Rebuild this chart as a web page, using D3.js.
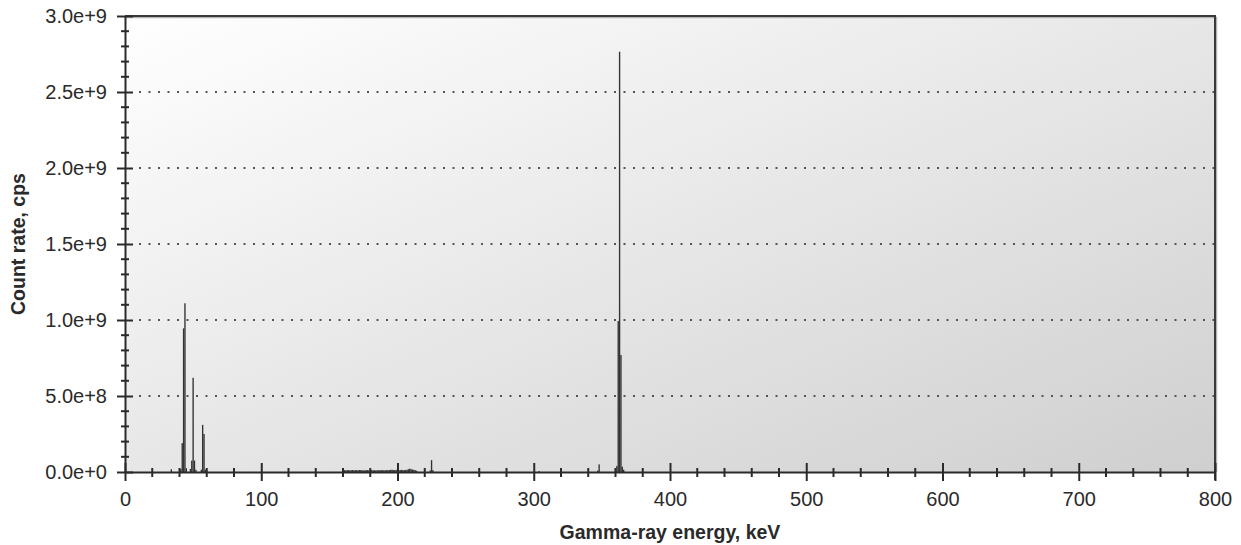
<!DOCTYPE html>
<html>
<head>
<meta charset="utf-8">
<script src="https://cdn.jsdelivr.net/npm/d3@7"></script>
<style>
  body { margin: 0; background: #ffffff; }
  svg { display: block; }
  text { font-family: "Liberation Sans", Arial, sans-serif; fill: #2a2a2a; }
</style>
</head>
<body>
<svg id="chart" width="1241" height="545"></svg>
<script>
// Gamma spectrum, 1 keV bins: energy (keV) and count rate (cps). Empty bins are omitted.
const lineEnergies = [34, 41, 42, 43, 44, 45, 48, 49, 50, 51, 52, 56, 57, 58, 59,
                      224, 225, 226, 304, 347, 348, 360, 361, 362, 363, 364, 365, 366];
const lineRates = [1.8e7, 2.0e7, 1.9e8, 9.45e8, 1.11e9, 2.5e7, 2.0e7, 7.5e7, 6.2e8, 7.5e7, 1.5e7,
                   1.5e7, 3.1e8, 2.5e8, 1.5e7,
                   1.0e7, 7.8e7, 1.2e7, 6.0e6, 1.0e7, 5.0e7, 2.0e7, 4.0e7, 9.93e8, 2.765e9, 7.7e8, 3.5e7, 1.5e7];

// Weak continuum between 160 and 214 keV
const continuumEnergies = [160, 161, 162, 163, 164, 165, 166, 167, 168, 169,
                           170, 171, 172, 173, 174, 175, 176, 177, 178, 179,
                           180, 181, 182, 183, 184, 185, 186, 187, 188, 189,
                           190, 191, 192, 193, 194, 195, 196, 197, 198, 199,
                           200, 201, 202, 203, 204, 205, 206, 207, 208, 209,
                           210, 211, 212, 213, 214];
const continuumRates = [1.1e7, 1.2e7, 1.0e7, 1.3e7, 1.2e7, 1.1e7, 1.2e7, 1.3e7, 1.1e7, 1.2e7,
                        1.2e7, 1.1e7, 1.3e7, 1.2e7, 1.2e7, 1.0e7, 1.1e7, 1.3e7, 1.2e7, 1.1e7,
                        1.2e7, 1.3e7, 1.1e7, 1.2e7, 1.0e7, 1.2e7, 1.1e7, 1.2e7, 1.3e7, 1.1e7,
                        1.2e7, 1.1e7, 1.2e7, 1.3e7, 1.2e7, 1.4e7, 1.5e7, 1.3e7, 1.2e7, 1.4e7,
                        1.5e7, 1.3e7, 1.2e7, 1.4e7, 1.3e7, 1.2e7, 1.3e7, 1.5e7, 1.8e7, 2.2e7,
                        1.9e7, 1.6e7, 1.4e7, 1.2e7, 0.8e7];

const xMajorTicks = [0, 100, 200, 300, 400, 500, 600, 700, 800];
const xMinorTicks = d3.range(0, 801, 20).filter(v => v % 100 !== 0);
const yMajorTicks = [0, 5e8, 1e9, 1.5e9, 2e9, 2.5e9, 3e9];
const yMinorTicks = d3.range(0, 31).map(i => i * 1e8).filter((v, i) => i % 5 !== 0);
const yGridValues = [5e8, 1e9, 1.5e9, 2e9, 2.5e9];

const xTitle = "Gamma-ray energy, keV";
const yTitle = "Count rate, cps";

const plot = { left: 125, right: 1215, top: 16, bottom: 472 };

const x = d3.scaleLinear().domain([0, 800]).range([plot.left, plot.right]);
const y = d3.scaleLinear().domain([0, 3e9]).range([plot.bottom, plot.top]);

const svg = d3.select("#chart");

// Plot background: soft diagonal gradient from white to light grey
const defs = svg.append("defs");
const grad = defs.append("linearGradient")
  .attr("id", "plotBg").attr("x1", 0).attr("y1", 0).attr("x2", 1).attr("y2", 1);
grad.append("stop").attr("offset", 0).attr("stop-color", "#ffffff");
grad.append("stop").attr("offset", 1).attr("stop-color", "#cfcfcf");

svg.append("rect")
  .attr("x", plot.left).attr("y", plot.top)
  .attr("width", plot.right - plot.left).attr("height", plot.bottom - plot.top)
  .attr("fill", "url(#plotBg)");

// Dotted horizontal gridlines
svg.append("g").selectAll("line").data(yGridValues).join("line")
  .attr("x1", plot.left + 14).attr("x2", plot.right)
  .attr("y1", d => y(d)).attr("y2", d => y(d))
  .attr("stroke", "#555").attr("stroke-width", 2)
  .attr("stroke-dasharray", "2,7.5");

// Spectrum bins
const bins = lineEnergies.map((e, i) => ({ e, v: lineRates[i] }))
  .concat(continuumEnergies.map((e, i) => ({ e, v: continuumRates[i] })));

svg.append("g").selectAll("rect").data(bins).join("rect")
  .attr("x", d => x(d.e - 0.5))
  .attr("width", d => x(d.e + 0.5) - x(d.e - 0.5))
  .attr("y", d => y(d.v))
  .attr("height", d => y(0) - y(d.v))
  .attr("fill", "#333");

// Frame: top and right edges with a faint shadow
svg.append("path")
  .attr("d", `M${plot.left},${plot.top + 1.5}H${plot.right + 1.5}V${plot.bottom}`)
  .attr("fill", "none").attr("stroke", "#b5b5b5").attr("stroke-width", 1.5);
svg.append("path")
  .attr("d", `M${plot.left},${plot.top}H${plot.right}V${plot.bottom + 8}`)
  .attr("fill", "none").attr("stroke", "#3a3a3a").attr("stroke-width", 2);

// X axis
const xAxis = svg.append("g").attr("transform", `translate(0,${plot.bottom})`)
  .call(d3.axisBottom(x).tickValues(xMajorTicks).tickFormat(d3.format("d")).tickSize(0).tickPadding(20));
xAxis.select(".domain").attr("stroke", "#2a2a2a").attr("stroke-width", 2);
xAxis.selectAll("text").attr("font-size", 20).attr("fill", "#2a2a2a");
xAxis.selectAll(".tick").append("line")
  .attr("y1", -9).attr("y2", 9).attr("stroke", "#2a2a2a").attr("stroke-width", 2);
xAxis.append("g").selectAll("line").data(xMinorTicks).join("line")
  .attr("x1", d => x(d)).attr("x2", d => x(d))
  .attr("y1", -4).attr("y2", 5).attr("stroke", "#2a2a2a").attr("stroke-width", 2);

// Y axis
const yAxis = svg.append("g").attr("transform", `translate(${plot.left},0)`)
  .call(d3.axisLeft(y).tickValues(yMajorTicks).tickFormat(d3.format(".1e")).tickSize(0).tickPadding(18));
yAxis.select(".domain").attr("stroke", "#2a2a2a").attr("stroke-width", 2);
yAxis.selectAll("text").attr("font-size", 20).attr("fill", "#2a2a2a");
yAxis.selectAll(".tick").append("line")
  .attr("x1", -8).attr("x2", 8).attr("stroke", "#2a2a2a").attr("stroke-width", 2);
yAxis.append("g").selectAll("line").data(yMinorTicks).join("line")
  .attr("y1", d => y(d)).attr("y2", d => y(d))
  .attr("x1", -4).attr("x2", 4).attr("stroke", "#2a2a2a").attr("stroke-width", 2);

// Axis titles
svg.append("text")
  .attr("x", (plot.left + plot.right) / 2).attr("y", 539)
  .attr("text-anchor", "middle").attr("font-size", 19.5).attr("font-weight", "bold")
  .text(xTitle);
svg.append("text")
  .attr("transform", `translate(25,${(plot.top + plot.bottom) / 2}) rotate(-90)`)
  .attr("text-anchor", "middle").attr("font-size", 19.5).attr("font-weight", "bold")
  .text(yTitle);
</script>
</body>
</html>
